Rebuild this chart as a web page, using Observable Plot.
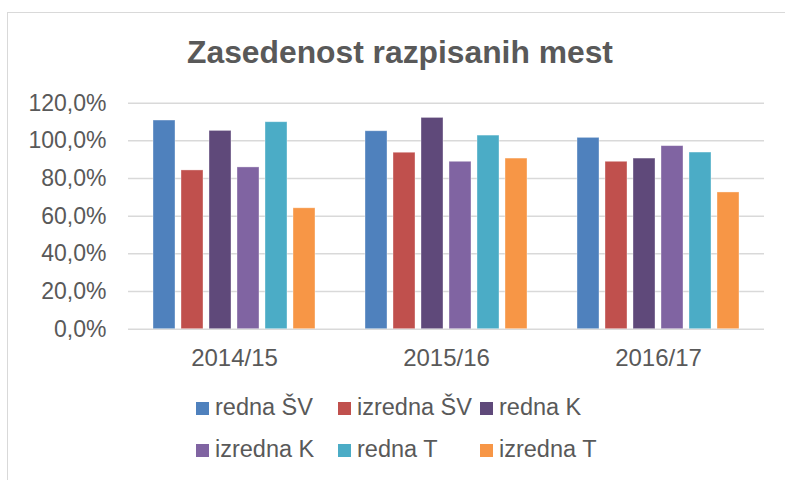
<!DOCTYPE html>
<html>
<head>
<meta charset="utf-8">
<script src="https://cdn.jsdelivr.net/npm/d3@7"></script>
<script src="https://cdn.jsdelivr.net/npm/@observablehq/plot@0.6"></script>
<style>
  html, body { margin: 0; padding: 0; background: #fff; }
  #wrap { position: relative; width: 785px; height: 480px; overflow: hidden; font-family: "Liberation Sans", Arial, sans-serif; color: #595959; }
  #border { position: absolute; left: 7px; top: 12px; width: 900px; height: 600px; border-left: 1.5px solid #d9d9d9; border-top: 1.5px solid #d9d9d9; }
  #title { position: absolute; left: 0; width: 800px; top: 36.5px; text-align: center; font-weight: bold; font-size: 31.8px; line-height: 31.8px; white-space: nowrap; }
  #chart { position: absolute; left: 0; top: 0; }
  #legend { position: absolute; left: 196px; top: 387px; display: grid; grid-template-columns: repeat(3, 142px); grid-auto-rows: 41.7px; font-size: 23.5px; line-height: 41.7px; white-space: nowrap; }
  .sw { display: inline-block; width: 12.7px; height: 12.7px; margin-right: 6.3px; }
</style>
</head>
<body>
<div id="wrap">
  <div id="border"></div>
  <div id="title"></div>
  <div id="chart"></div>
  <div id="legend"></div>
</div>
<script>
const title = "Zasedenost razpisanih mest";
const years = ["2014/15", "2015/16", "2016/17"];
const series = ["redna ŠV", "izredna ŠV", "redna K", "izredna K", "redna T", "izredna T"];
const colors = ["#4f81bd", "#c0504d", "#5f497a", "#8064a2", "#4bacc6", "#f79646"];
const rednaSV   = [110.8, 105.1, 101.6];
const izrednaSV = [84.3, 93.7, 88.9];
const rednaK    = [105.3, 112.2, 90.6];
const izrednaK  = [85.9, 88.9, 97.2];
const rednaT    = [109.9, 102.8, 93.8];
const izrednaT  = [64.2, 90.6, 72.6];
const yTicks = [0, 20, 40, 60, 80, 100, 120];

const seriesValues = [rednaSV, izrednaSV, rednaK, izrednaK, rednaT, izrednaT];
const data = [];
years.forEach((yr, i) => {
  series.forEach((s, j) => data.push({year: yr, series: s, value: seriesValues[j][i]}));
});

const fmt = d => d.toFixed(1).replace(".", ",") + "%";

const chart = Plot.plot({
  width: 785,
  height: 380,
  marginTop: 102.7,
  marginBottom: 51.3,
  marginLeft: 127,
  marginRight: 20,
  style: {fontFamily: "'Liberation Sans', Arial, sans-serif", color: "#595959", background: "transparent"},
  fx: {domain: years, padding: 0, label: null},
  x: {domain: series, paddingInner: 0.23, paddingOuter: 0.87, axis: null},
  y: {domain: [0, 120], label: null},
  color: {domain: series, range: colors},
  marks: [
    Plot.gridY({ticks: yTicks, stroke: "#d9d9d9", strokeOpacity: 1, strokeWidth: 1.5}),
    Plot.barY(data, {fx: "year", x: "series", y: "value", fill: "series", stroke: "white", strokeOpacity: 0.45, strokeWidth: 0.8}),
    Plot.axisY({ticks: yTicks, tickFormat: fmt, tickSize: 0, tickPadding: 22, fontSize: 23, label: null, fill: "#595959"}),
    Plot.axisFx({anchor: "bottom", tickSize: 0, tickPadding: 20, fontSize: 24, label: null, fill: "#595959"})
  ]
});
document.getElementById("chart").appendChild(chart);
document.getElementById("title").textContent = title;

const legend = document.getElementById("legend");
series.forEach((s, i) => {
  const item = document.createElement("div");
  const sw = document.createElement("span");
  sw.className = "sw";
  sw.style.background = colors[i];
  item.appendChild(sw);
  item.appendChild(document.createTextNode(s));
  legend.appendChild(item);
});
</script>
</body>
</html>
